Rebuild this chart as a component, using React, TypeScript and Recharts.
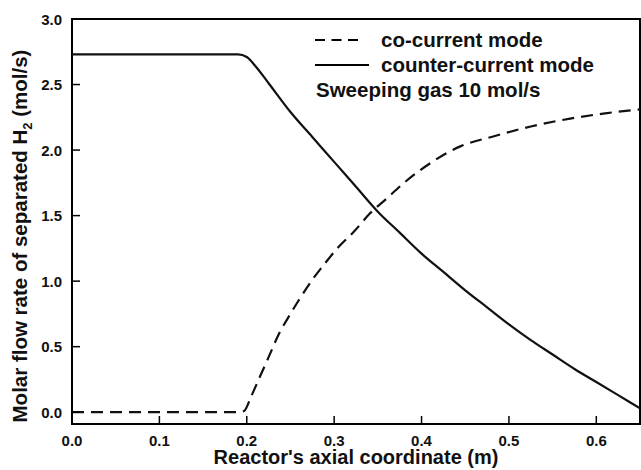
import React from 'react';
import { LineChart, Line, XAxis, YAxis, ReferenceArea, Customized } from 'recharts';

const coX = [0, 0.05, 0.1, 0.15, 0.19, 0.197, 0.205, 0.215, 0.225, 0.237, 0.25, 0.26, 0.275, 0.29, 0.305, 0.323, 0.34, 0.36, 0.38, 0.41, 0.445, 0.48, 0.525, 0.57, 0.61, 0.65];
const coY = [0, 0, 0, 0, 0, 0.01, 0.12, 0.27, 0.42, 0.6, 0.75, 0.86, 1.01, 1.14, 1.26, 1.38, 1.51, 1.63, 1.75, 1.9, 2.03, 2.1, 2.18, 2.24, 2.28, 2.31];

const ctX = [0, 0.05, 0.1, 0.15, 0.19, 0.2, 0.21, 0.225, 0.25, 0.275, 0.3, 0.325, 0.35, 0.375, 0.4, 0.425, 0.45, 0.475, 0.5, 0.525, 0.55, 0.575, 0.6, 0.625, 0.65];
const ctY = [2.73, 2.73, 2.73, 2.73, 2.73, 2.71, 2.64, 2.51, 2.29, 2.1, 1.91, 1.72, 1.53, 1.37, 1.21, 1.07, 0.93, 0.8, 0.67, 0.55, 0.44, 0.33, 0.23, 0.13, 0.03];

const xTicks = [0, 0.1, 0.2, 0.3, 0.4, 0.5, 0.6];
const yTicks = [0, 0.5, 1.0, 1.5, 2.0, 2.5, 3.0];

const legendLabels = ['co-current mode', 'counter-current mode', 'Sweeping gas 10 mol/s'];
const xTitle = "Reactor's axial coordinate (m)";
const yTitleMain = 'Molar flow rate of separated H';
const yTitleSub = '2';
const yTitleEnd = ' (mol/s)';

const coData = coX.map((x, i) => ({ x, y: coY[i] }));
const ctData = ctX.map((x, i) => ({ x, y: ctY[i] }));

const FONT = '"Liberation Sans", Arial, Helvetica, sans-serif';

const XTick = (props: any) => {
  const { x, y, payload } = props;
  return (
    <g>
      <line x1={x} x2={x} y1={y} y2={y - 8} stroke="#000" strokeWidth={1.5} />
      <text x={x} y={y + 21.5} textAnchor="middle" fontFamily={FONT} fontWeight="bold" fontSize={15} fill="#111">
        {Number(payload.value).toFixed(1)}
      </text>
    </g>
  );
};

const YTick = (props: any) => {
  const { x, y, payload } = props;
  return (
    <g>
      <line x1={x} x2={x + 8} y1={y} y2={y} stroke="#000" strokeWidth={1.5} />
      <text x={x - 10} y={y + 5.5} textAnchor="end" fontFamily={FONT} fontWeight="bold" fontSize={15} fill="#111">
        {Number(payload.value).toFixed(1)}
      </text>
    </g>
  );
};

const Decorations = () => (
  <g fontFamily={FONT} fontWeight="bold" fill="#111">
    <line x1={315} x2={362} y1={40} y2={40} stroke="#000" strokeWidth={2.2} strokeDasharray="10 6.5" />
    <line x1={315} x2={369} y1={65} y2={65} stroke="#000" strokeWidth={2.2} />
    <text x={381} y={47} fontSize={20.5}>{legendLabels[0]}</text>
    <text x={381} y={72} fontSize={20.5}>{legendLabels[1]}</text>
    <text x={316} y={97} fontSize={20.5}>{legendLabels[2]}</text>
    <text x={356} y={464} fontSize={20} textAnchor="middle">{xTitle}</text>
    <text x={27} y={236} fontSize={20.5} textAnchor="middle" transform="rotate(-90 27 236)">
      {yTitleMain}
      <tspan fontSize={13} dy={5}>{yTitleSub}</tspan>
      <tspan dy={-5}>{yTitleEnd}</tspan>
    </text>
  </g>
);

export default function App() {
  return (
    <div style={{ position: 'absolute', left: 0, top: 0, width: 641, height: 470, background: '#fff' }}>
      <LineChart width={641} height={470} margin={{ top: 19, right: 1, bottom: 0, left: 0 }}>
        <XAxis
          type="number"
          dataKey="x"
          domain={[0, 0.65]}
          ticks={xTicks}
          height={46}
          axisLine={false}
          tickLine={false}
          tickSize={0}
          tickMargin={0}
          tick={<XTick />}
          allowDataOverflow
        />
        <YAxis
          type="number"
          dataKey="y"
          domain={[-0.09, 3.0]}
          ticks={yTicks}
          width={72}
          axisLine={false}
          tickLine={false}
          tickSize={0}
          tickMargin={0}
          tick={<YTick />}
          allowDataOverflow
        />
        <ReferenceArea x1={0} x2={0.65} y1={-0.09} y2={3.0} fill="none" stroke="#000" strokeWidth={2} ifOverflow="visible" />
        <Line data={coData} dataKey="y" type="monotone" stroke="#111" strokeWidth={2.2} strokeDasharray="12 7" dot={false} isAnimationActive={false} />
        <Line data={ctData} dataKey="y" type="monotone" stroke="#111" strokeWidth={2.2} dot={false} isAnimationActive={false} />
        <Customized component={Decorations} />
      </LineChart>
    </div>
  );
}
